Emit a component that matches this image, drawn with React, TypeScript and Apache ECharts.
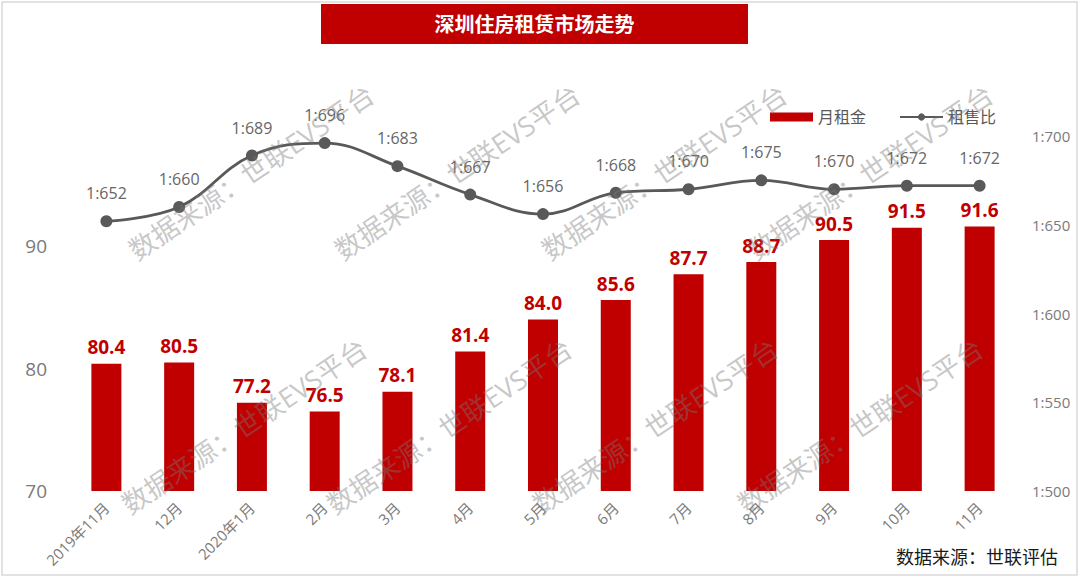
import React, { useEffect, useRef } from "react";
import * as echarts from "echarts";

const categories = ["2019年11月", "12月", "2020年1月", "2月", "3月", "4月", "5月", "6月", "7月", "8月", "9月", "10月", "11月"];
const rent = [80.4, 80.5, 77.2, 76.5, 78.1, 81.4, 84.0, 85.6, 87.7, 88.7, 90.5, 91.5, 91.6];
const ratio = [652, 660, 689, 696, 683, 667, 656, 668, 670, 675, 670, 672, 672];
const leftTicks = { min: 70, max: 99, interval: 10 };
const rightTicks = { min: 500, max: 700, interval: 50 };
const title = "深圳住房租赁市场走势";
const source = "数据来源：世联评估";
const watermark = "数据来源：世联EVS平台";
const watermarkCenters = [
  [251, 172], [457, 172], [664, 172], [870, 172],
  [244, 426], [449, 426], [655, 426], [860, 426],
];

const FONT = "'Open Sans', 'Noto Sans CJK SC', sans-serif";
const RED = "#C00000";
const GRAY = "#595959";
const AXIS_GRAY = "#7a7a7a";

export default function App() {
  const ref = useRef<HTMLDivElement>(null);
  useEffect(() => {
    if (!ref.current) return;
    const chart = echarts.init(ref.current, null, { renderer: "svg" });
    const wm = watermarkCenters.map(([x, y]) => ({
      type: "text",
      x,
      y,
      rotation: (34 * Math.PI) / 180,
      z: 100,
      silent: true,
      style: {
        text: watermark,
        fontSize: 27,
        fontFamily: FONT,
        fill: "rgba(120,120,120,0.42)",
        align: "center",
        verticalAlign: "middle",
      },
    }));
    chart.setOption({
      animation: false,
      backgroundColor: "#ffffff",
      textStyle: { fontFamily: FONT },
      grid: { left: 70, right: 64, top: 136, bottom: 87 },
      legend: {
        left: 765,
        top: 104,
        itemWidth: 43,
        itemHeight: 9,
        itemGap: 33,
        textStyle: { fontSize: 16, color: GRAY, fontFamily: FONT },
        data: [
          { name: "月租金", icon: "rect" },
          { name: "租售比" },
        ],
      },
      xAxis: {
        type: "category",
        data: categories,
        axisLine: { show: false },
        axisTick: { show: false },
        axisLabel: { rotate: 45, fontSize: 15, color: AXIS_GRAY, margin: 14, interval: 0 },
      },
      yAxis: [
        {
          type: "value",
          min: leftTicks.min,
          max: leftTicks.max,
          interval: leftTicks.interval,
          splitLine: { show: false },
          axisLine: { show: false },
          axisTick: { show: false },
          axisLabel: { fontSize: 19, color: AXIS_GRAY, margin: 23, showMaxLabel: false },
        },
        {
          type: "value",
          min: rightTicks.min,
          max: rightTicks.max,
          interval: rightTicks.interval,
          splitLine: { show: false },
          axisLine: { show: false },
          axisTick: { show: false },
          axisLabel: { fontSize: 15, color: AXIS_GRAY, margin: 16, formatter: (v: number) => "1:" + v },
        },
      ],
      series: [
        {
          name: "月租金",
          type: "bar",
          data: rent,
          barWidth: 30,
          itemStyle: { color: RED },
          label: {
            show: true,
            position: "top",
            distance: 7,
            color: RED,
            fontWeight: "bold",
            fontSize: 19,
            formatter: (p: any) => Number(p.value).toFixed(1),
          },
        },
        {
          name: "租售比",
          type: "line",
          yAxisIndex: 1,
          data: ratio,
          smooth: 0.4,
          symbol: "circle",
          symbolSize: 12,
          z: 5,
          lineStyle: { color: GRAY, width: 2.8 },
          itemStyle: { color: GRAY },
          label: {
            show: true,
            position: "top",
            distance: 14,
            color: "#666666",
            fontSize: 16,
            formatter: (p: any) => "1:" + p.value,
          },
        },
      ],
      graphic: [
        {
          type: "rect",
          shape: { x: 2, y: 2, width: 1075, height: 573 },
          style: { fill: "none", stroke: "#d9d9d9", lineWidth: 1.5 },
          z: 0,
          silent: true,
        },
        {
          type: "rect",
          shape: { x: 321, y: 4, width: 427, height: 40 },
          style: { fill: RED },
          z: 10,
        },
        {
          type: "text",
          x: 534.5,
          y: 24,
          z: 11,
          style: {
            text: title,
            fontSize: 20,
            fontWeight: "bold",
            fontFamily: FONT,
            fill: "#ffffff",
            align: "center",
            verticalAlign: "middle",
          },
        },
        {
          type: "text",
          x: 1058,
          y: 557,
          z: 11,
          style: {
            text: source,
            fontSize: 18,
            fontFamily: FONT,
            fill: "#1a1a1a",
            align: "right",
            verticalAlign: "middle",
          },
        },
        ...wm,
      ],
    });
    return () => chart.dispose();
  }, []);
  return (
    <div
      ref={ref}
      style={{ position: "absolute", left: 0, top: 0, width: 1080, height: 578 }}
    />
  );
}
